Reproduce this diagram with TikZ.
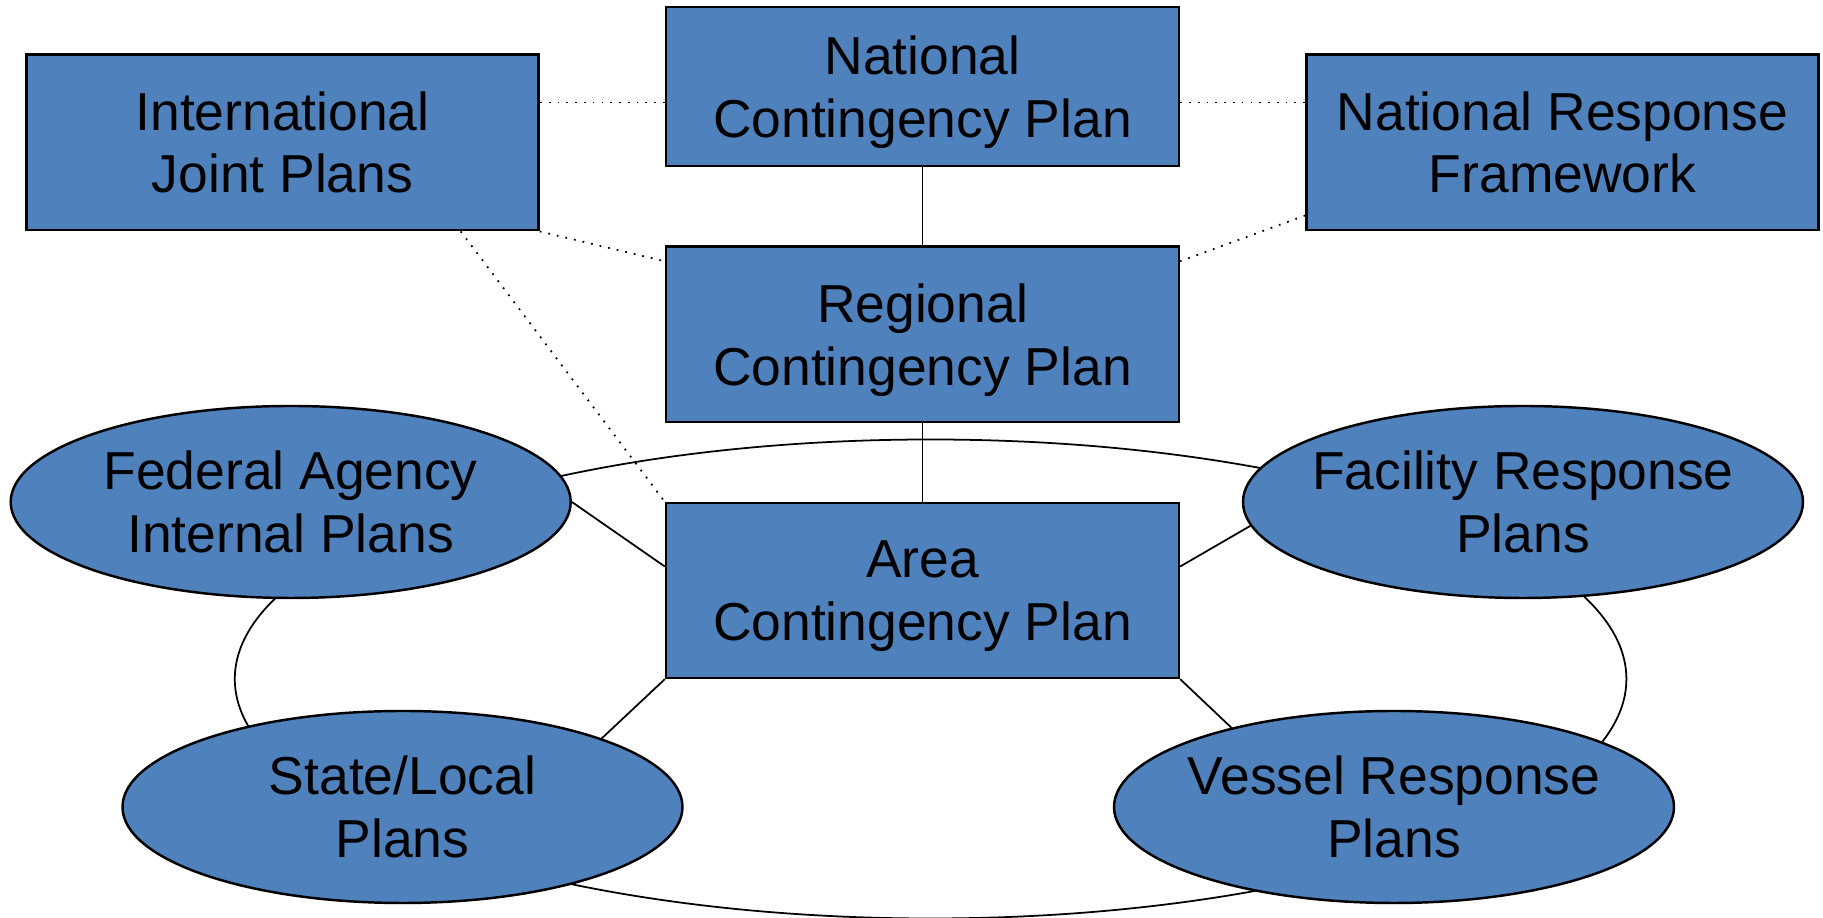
\documentclass[tikz,border=0pt]{standalone}
\usepackage{fontspec}
\setmainfont{Liberation Sans}
\usepackage{tikz}
\usetikzlibrary{shapes.geometric,calc}
\definecolor{planblue}{HTML}{4F81BD}

\begin{document}
\begin{tikzpicture}[font=\fontsize{15.2}{17.9}\selectfont,
  planbox/.style={draw,line width=0.7pt,fill=planblue,minimum width=5.12cm,align=center,inner sep=0pt},
  midbox/.style={planbox,minimum width=5.13cm,text depth=0pt},
  planoval/.style={ellipse,draw,line width=0.7pt,fill=planblue,minimum width=5.6cm,minimum height=1.92cm,align=center,inner ysep=0pt,inner xsep=-1cm},
  solidlink/.style={line width=0.5pt},
  dotlink/.style={line width=0.5pt,dotted}]
\useasboundingbox (0,0) rectangle (18.23,9.18);
%outer ring
\draw[solidlink] (9.306,2.39) ellipse (6.958 and 2.395);
%top row
\node[planbox,minimum height=1.756cm] (ijp) at (2.825,7.756) {International\\Joint Plans};
\node[midbox,minimum height=1.59cm] (ncp) at (9.225,8.315) {National\\Contingency Plan};
\node[planbox,minimum height=1.756cm] (nrf) at (15.625,7.756) {National Response\\Framework};
%middle column
\node[midbox,minimum height=1.755cm] (rcp) at (9.225,5.8375) {Regional\\Contingency Plan};
\node[midbox,minimum height=1.75cm] (acp) at (9.225,3.275) {Area\\Contingency Plan};
%ovals
\node[planoval] (fed) at (2.907,4.16) {Federal Agency\\Internal Plans};
\node[planoval] (frp) at (15.23,4.16) {Facility Response\\Plans};
\node[planoval] (slp) at (4.025,1.11) {State/Local\\Plans};
\node[planoval] (vrp) at (13.94,1.11) {Vessel Response\\Plans};
%dotted links
\coordinate (ncpw) at ([yshift=-1.6mm]ncp.west);
\coordinate (ncpe) at ([yshift=-1.6mm]ncp.east);
\draw[dotlink] (ncpw) -- (ncpw -| ijp.east);
\draw[dotlink] (ncpe) -- (ncpe -| nrf.west);
\draw[dotlink] (ijp.south east) -- ([yshift=-1.6mm]rcp.north west);
\draw[dotlink] ([yshift=1.6mm]nrf.south west) -- ([yshift=-1.6mm]rcp.north east);
\draw[dotlink] ([xshift=-7.9mm]ijp.south east) -- (acp.north west);
%solid links
\draw[solidlink] (ncp.south) -- (rcp.north);
\draw[solidlink] (rcp.south) -- (acp.north);
\draw[solidlink] ([yshift=2.4mm]acp.west) -- (fed.east);
\draw[solidlink] ([yshift=2.4mm]acp.east) -- (frp.185);
\draw[solidlink] (acp.south west) -- (slp.19);
\draw[solidlink] (acp.south east) -- (vrp.154);
\end{tikzpicture}
\end{document}
